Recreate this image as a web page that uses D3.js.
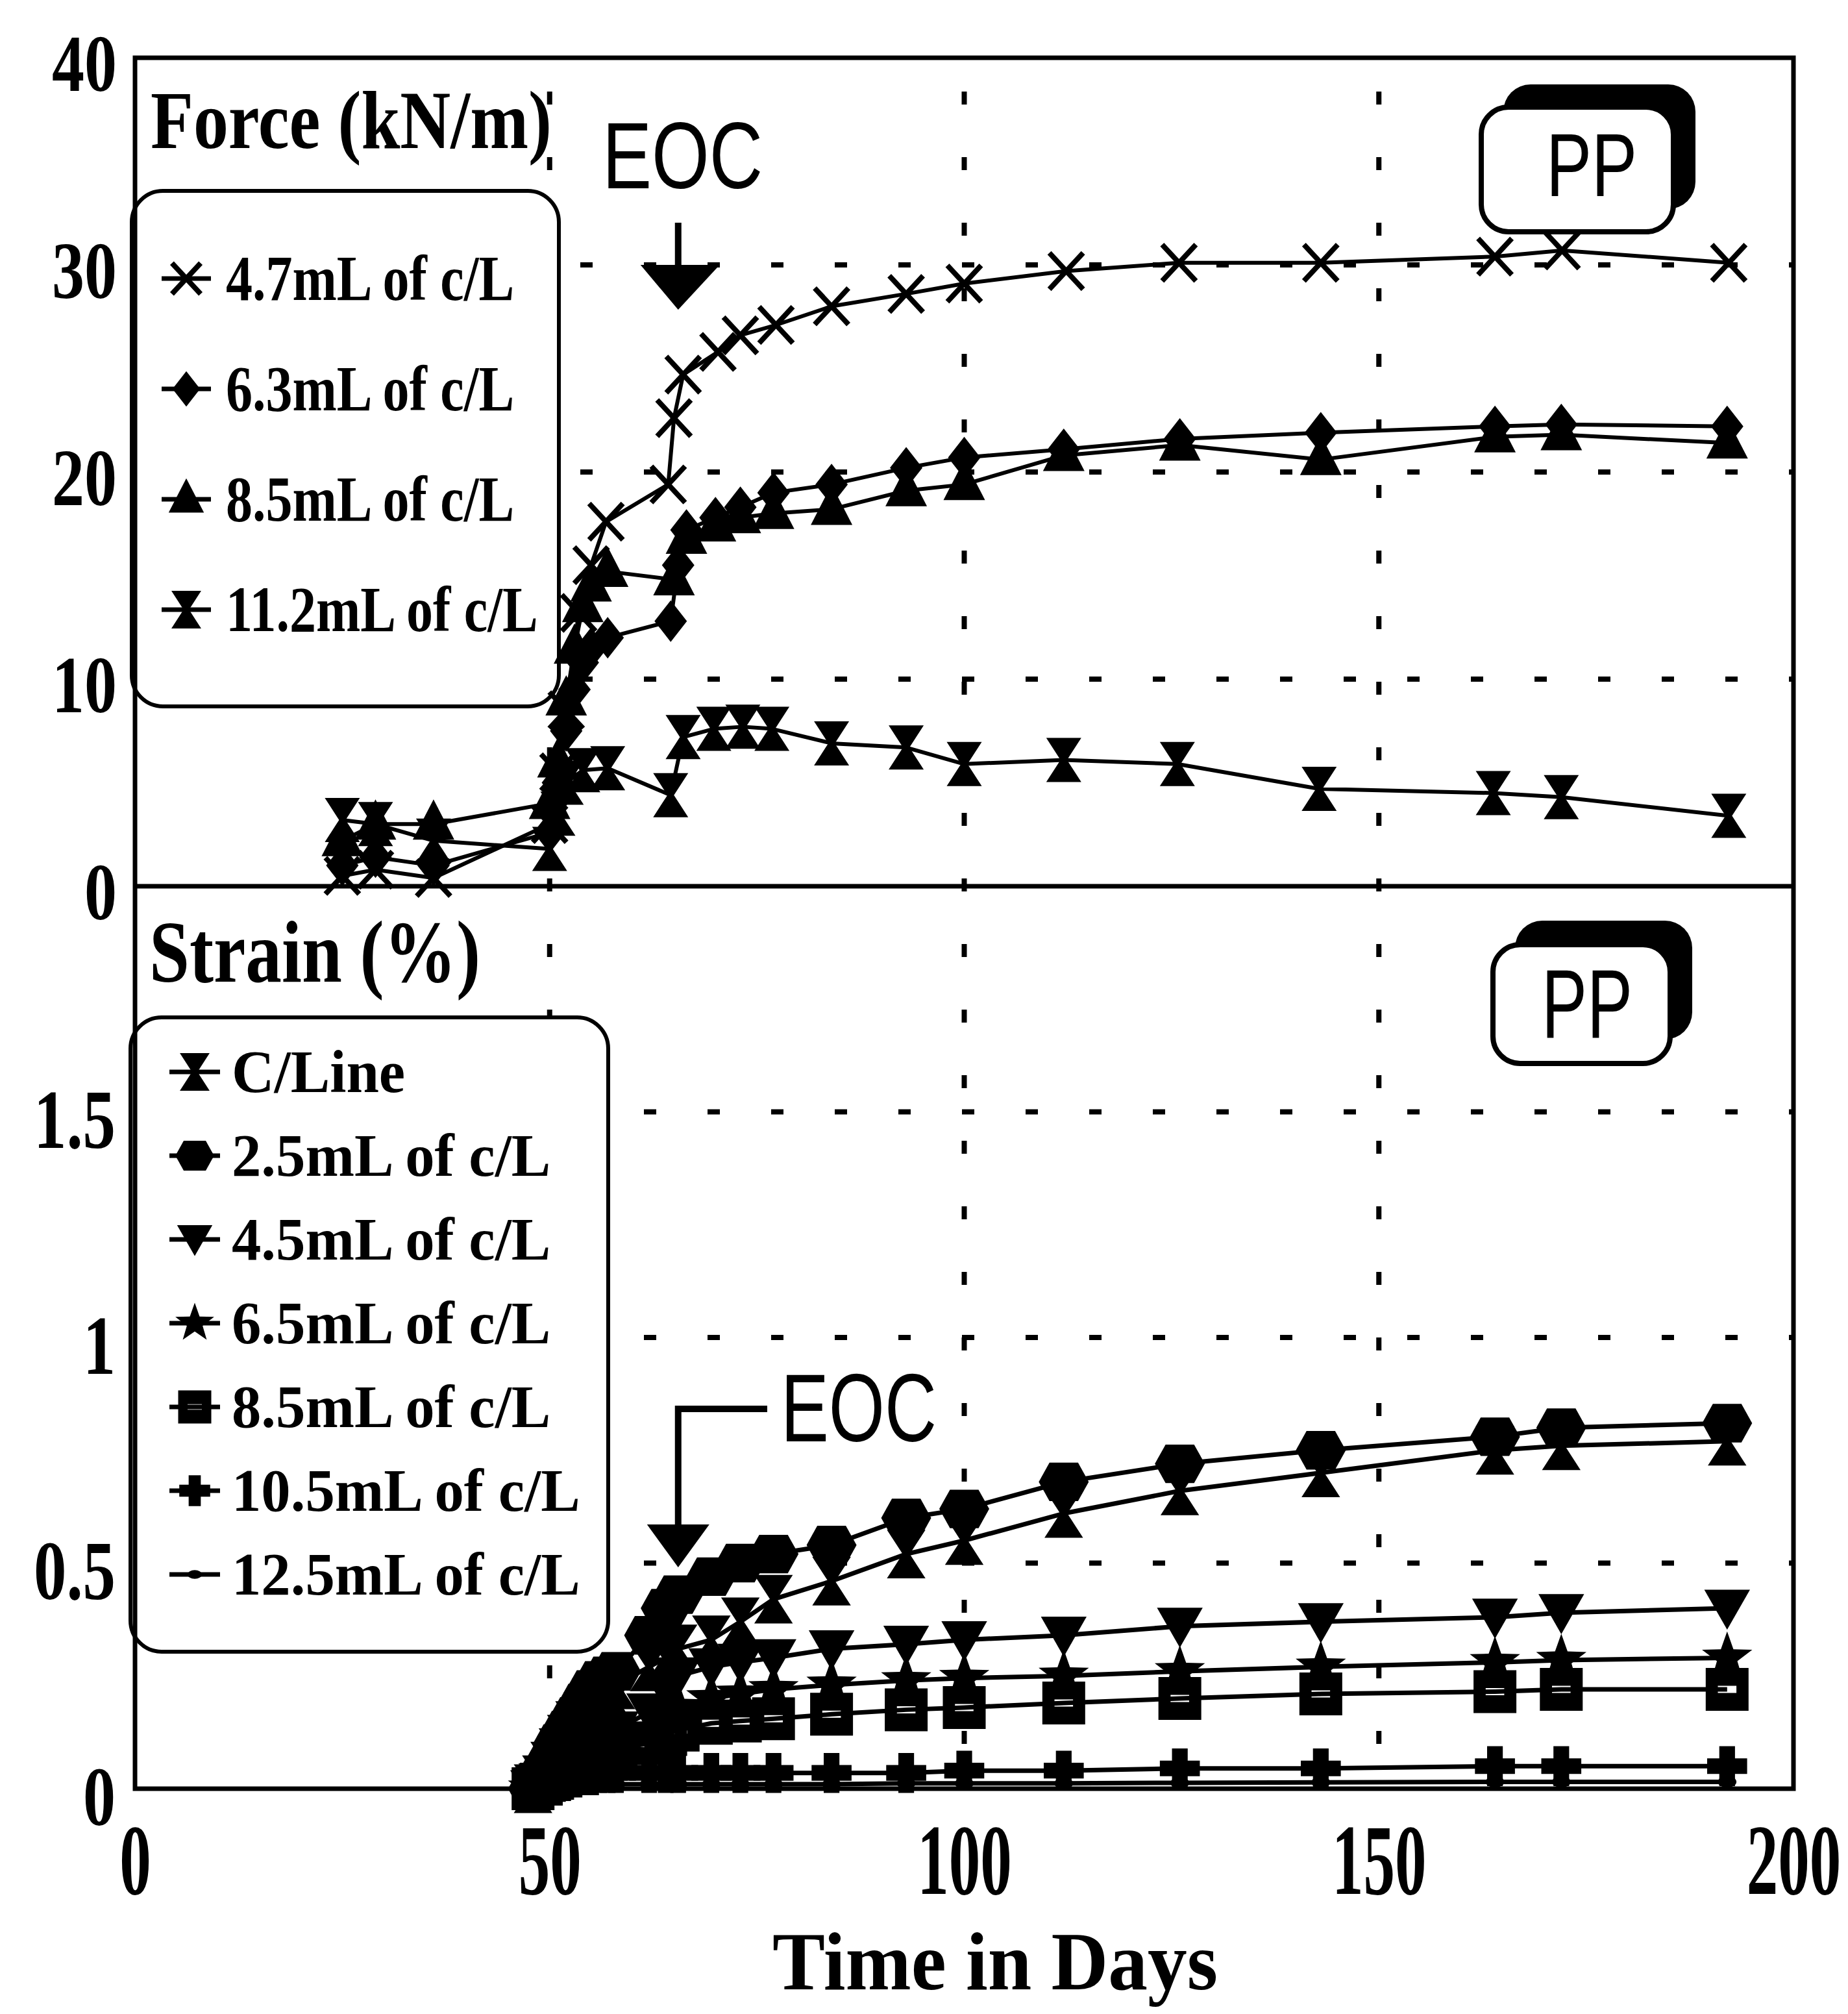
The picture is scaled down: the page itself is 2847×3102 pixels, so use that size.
<!DOCTYPE html>
<html lang="en">
<head>
    <meta charset="UTF-8">
    <title>PP - Force and Strain vs Time</title>
    <script src="https://d3js.org/d3.v7.min.js"></script>
    <style>
        body { margin: 0; background-color: white; }
        svg { display: block; }
    </style>
</head>
<body>
<script>
    // ---- values ----
    const dayTicks = [0, 50, 100, 150, 200];
    const forceTicks = [0, 10, 20, 30, 40];
    const strainTicks = [0, 0.5, 1, 1.5];
    const dayGrid = [50, 100, 150];
    const forceGrid = [10, 20, 30];
    const strainGrid = [0.5, 1, 1.5];
    const eocDay = 65.5;

    // top panel: force (kN/m)
    const forceNames = ["4.7mL of c/L", "6.3mL of c/L", "8.5mL of c/L", "11.2mL of c/L"];
    const f47Days = [25, 29, 36, 50, 51, 52, 53.5, 55, 56.8, 64.3, 65, 66.1, 70.3, 73, 77.3, 84, 93, 100, 112.3, 125.9, 143, 164, 172.1, 192.2];
    const f47 = [0.5, 0.8, 0.4, 3.0, 5.5, 8.5, 13.2, 15.5, 17.6, 19.4, 22.6, 24.7, 25.8, 26.6, 27.1, 28.0, 28.6, 29.1, 29.7, 30.1, 30.1, 30.4, 30.7, 30.1];
    const f63Days = [25, 29, 36, 50, 51, 52, 53, 54, 55, 57, 64.6, 65.5, 66.5, 70, 73, 77, 84, 93, 100, 112, 126, 143, 164, 172, 192];
    const f63 = [1.0, 1.4, 1.0, 2.6, 5.0, 7.5, 9.5, 10.8, 11.5, 12.0, 12.8, 15.5, 17.2, 17.8, 18.3, 19.0, 19.4, 20.2, 20.7, 21.1, 21.6, 21.9, 22.2, 22.3, 22.2];
    const f85Days = [25, 29, 36, 50, 51, 52, 53, 54, 55, 57, 65, 66.5, 70, 73, 77, 84, 93, 100, 112, 126, 143, 164, 172, 192];
    const f85 = [2.2, 3.0, 3.0, 4.0, 6.0, 9.0, 11.5, 13.5, 14.5, 15.2, 14.8, 16.8, 17.4, 17.8, 18.0, 18.2, 19.1, 19.4, 20.8, 21.3, 20.6, 21.7, 21.8, 21.4];
    const f112Days = [25, 29, 36, 50, 51, 52, 54, 57, 64.6, 66.1, 69.8, 73.3, 76.8, 84, 93, 100, 112, 125.7, 142.8, 163.8, 172, 192.2];
    const f112 = [3.2, 3.0, 2.2, 1.8, 3.5, 5.0, 5.6, 5.7, 4.4, 7.2, 7.6, 7.7, 7.6, 6.9, 6.7, 5.9, 6.1, 5.9, 4.7, 4.5, 4.3, 3.4];

    // bottom panel: strain (%)
    const strainNames = ["C/Line", "2.5mL of c/L", "4.5mL of c/L", "6.5mL of c/L", "8.5mL of c/L", "10.5mL of c/L", "12.5mL of c/L"];
    const strainDays = [48, 49, 50, 51, 52, 53, 54, 55, 56, 57, 58, 62, 64, 65.5, 69.5, 73, 77, 84, 93, 100, 112, 126, 143, 164, 172, 192];
    const sCLine = [0, 0.02, 0.05, 0.08, 0.11, 0.14, 0.16, 0.19, 0.21, 0.22, 0.23, 0.27, 0.29, 0.31, 0.33, 0.37, 0.42, 0.46, 0.52, 0.55, 0.61, 0.66, 0.70, 0.75, 0.76, 0.77];
    const s25 = [0, 0.03, 0.06, 0.10, 0.13, 0.16, 0.19, 0.22, 0.24, 0.25, 0.26, 0.34, 0.40, 0.43, 0.47, 0.50, 0.52, 0.54, 0.60, 0.62, 0.68, 0.72, 0.75, 0.78, 0.80, 0.81];
    const s45 = [0, 0.015, 0.03, 0.05, 0.07, 0.09, 0.10, 0.11, 0.12, 0.13, 0.13, 0.17, 0.22, 0.25, 0.27, 0.28, 0.29, 0.31, 0.32, 0.33, 0.34, 0.36, 0.37, 0.38, 0.39, 0.40];
    const s65 = [0, 0.01, 0.02, 0.04, 0.05, 0.07, 0.08, 0.09, 0.10, 0.10, 0.11, 0.13, 0.16, 0.18, 0.20, 0.21, 0.22, 0.23, 0.24, 0.245, 0.25, 0.26, 0.27, 0.28, 0.285, 0.29];
    const s85 = [0, 0.01, 0.02, 0.03, 0.04, 0.05, 0.06, 0.07, 0.08, 0.08, 0.09, 0.10, 0.12, 0.13, 0.145, 0.15, 0.155, 0.165, 0.175, 0.18, 0.19, 0.20, 0.21, 0.215, 0.22, 0.22];
    const s105 = [0, 0.005, 0.01, 0.015, 0.02, 0.025, 0.03, 0.03, 0.035, 0.035, 0.035, 0.035, 0.035, 0.035, 0.035, 0.035, 0.035, 0.035, 0.035, 0.04, 0.04, 0.045, 0.045, 0.05, 0.05, 0.05];
    const s125 = [0, 0.003, 0.005, 0.007, 0.008, 0.009, 0.01, 0.01, 0.01, 0.01, 0.01, 0.01, 0.01, 0.01, 0.01, 0.01, 0.01, 0.01, 0.012, 0.012, 0.012, 0.013, 0.014, 0.015, 0.015, 0.015];

    // ---- layout ----
    const width = 2847, height = 3102;
    const plot = {left: 208, right: 2763, top: 89, mid: 1365, bottom: 2755};
    const serif = '"Liberation Serif", "Times New Roman", serif';
    const sans = '"Liberation Sans", Arial, sans-serif';

    const svg = d3.select("body").append("svg")
        .attr("width", width)
        .attr("height", height);
    svg.append("rect").attr("width", width).attr("height", height).attr("fill", "white");

    const x = d3.scaleLinear().domain([0, 200]).range([plot.left, plot.right]);
    const yF = d3.scaleLinear().domain([0, 40]).range([plot.mid, plot.top]);
    const yS = d3.scaleLinear().domain([0, 2]).range([plot.bottom, plot.mid]);

    // marker shapes (centred on 0,0)
    function starPath(R, r) {
        const p = [];
        for (let i = 0; i < 10; i++) {
            const a = -Math.PI / 2 + i * Math.PI / 5;
            const rad = i % 2 ? r : R;
            p.push([(rad * Math.cos(a)).toFixed(1), (rad * Math.sin(a)).toFixed(1)]);
        }
        return "M" + p.map(q => q.join(",")).join("L") + "Z";
    }
    const marks = {
        x: {d: "M-26,-28L26,28M-26,28L26,-28", stroke: true},
        diamond: {d: "M0,-32L25,0L0,32L-25,0Z"},
        triUp: {d: "M0,-38L32,24L-32,24Z"},
        hourglass: {d: "M-27,-34H27L5,0L27,34H-27L-5,0Z"},
        hex: {d: "M-35,0L-20,-27H20L35,0L20,27H-20Z"},
        triDown: {d: "M-32,-26H32L0,30Z"},
        star: {d: starPath(37, 15)},
        box: {d: "M-30,-30H30V30H-30ZM-13,-5H13V5H-13Z"},
        plus: {d: "M-11,-28H11V-11H28V11H11V28H-11V11H-28V-11H-11Z"},
        dot: {d: "M-13,0A13,8 0 1,0 13,0A13,8 0 1,0 -13,0Z"}
    };

    function drawMark(g, shape, cx, cy, s) {
        const m = marks[shape];
        const p = g.append("path")
            .attr("d", m.d)
            .attr("transform", `translate(${cx},${cy}) scale(${s})`);
        if (m.stroke) {
            p.attr("fill", "none").attr("stroke", "black").attr("stroke-width", 8 / s);
        } else {
            p.attr("fill", "black").attr("fill-rule", "evenodd");
        }
        return p;
    }

    const forceSeries = [
        {days: f47Days, vals: f47, shape: "x"},
        {days: f63Days, vals: f63, shape: "diamond"},
        {days: f85Days, vals: f85, shape: "triUp"},
        {days: f112Days, vals: f112, shape: "hourglass"}
    ];
    const strainSeries = [
        {vals: s125, shape: "dot"},
        {vals: s105, shape: "plus"},
        {vals: s85, shape: "box"},
        {vals: s65, shape: "star"},
        {vals: s45, shape: "triDown"},
        {vals: sCLine, shape: "hourglass"},
        {vals: s25, shape: "hex"}
    ];

    // ---- grid ----
    const grid = svg.append("g").attr("stroke", "black").attr("stroke-width", 8);
    grid.selectAll(".gx").data(dayGrid).join("line")
        .attr("x1", d => x(d)).attr("x2", d => x(d))
        .attr("y1", plot.top).attr("y2", plot.bottom)
        .attr("stroke-dasharray", "20 81").attr("stroke-dashoffset", 49);
    grid.selectAll(".gf").data(forceGrid).join("line")
        .attr("x1", plot.left).attr("x2", plot.right)
        .attr("y1", d => yF(d)).attr("y2", d => yF(d))
        .attr("stroke-dasharray", "19 79");
    grid.selectAll(".gs").data(strainGrid).join("line")
        .attr("x1", plot.left).attr("x2", plot.right)
        .attr("y1", d => yS(d)).attr("y2", d => yS(d))
        .attr("stroke-dasharray", "19 79");

    // ---- legends ----
    function drawLegend(names, shapes, box, rowY0, rowStep, markX, markHalf, markScale, textX, fs, squeeze) {
        const g = svg.append("g");
        g.append("rect")
            .attr("x", box[0]).attr("y", box[1]).attr("width", box[2]).attr("height", box[3])
            .attr("rx", 48).attr("ry", 48)
            .attr("fill", "white").attr("stroke", "black").attr("stroke-width", 6);
        names.forEach((name, i) => {
            const base = rowY0 + i * rowStep;
            const cy = base - fs * 0.33;
            g.append("line")
                .attr("x1", markX - markHalf).attr("x2", markX + markHalf)
                .attr("y1", cy).attr("y2", cy)
                .attr("stroke", "black").attr("stroke-width", 7);
            drawMark(g, shapes[i], markX, cy, markScale);
            const t = g.append("text")
                .attr("x", textX).attr("y", base)
                .style("font-family", serif).style("font-weight", "bold")
                .style("font-size", fs + "px")
                .text(name);
            const w = t.node().getComputedTextLength();
            t.attr("textLength", w * squeeze).attr("lengthAdjust", "spacingAndGlyphs");
        });
    }
    drawLegend(forceNames, ["x", "diamond", "triUp", "hourglass"],
        [203, 294, 658, 794], 462, 170, 287, 38, 0.85, 348, 100, 0.82);
    drawLegend(strainNames, ["hourglass", "hex", "triDown", "star", "box", "plus", "dot"],
        [201, 1567, 736, 977], 1682, 129, 300, 39, 0.85, 357, 94, 0.965);

    // ---- data ----
    const gData = svg.append("g");
    forceSeries.forEach(s => {
        const pts = d3.zip(s.days, s.vals);
        gData.append("path").datum(pts)
            .attr("fill", "none").attr("stroke", "black").attr("stroke-width", 6)
            .attr("stroke-linejoin", "round")
            .attr("d", d3.line().x(d => x(d[0])).y(d => yF(d[1])));
        pts.forEach(d => drawMark(gData, s.shape, x(d[0]), yF(d[1]), 1));
    });
    strainSeries.forEach(s => {
        const pts = d3.zip(strainDays, s.vals);
        gData.append("path").datum(pts)
            .attr("fill", "none").attr("stroke", "black").attr("stroke-width", 7)
            .attr("stroke-linejoin", "round")
            .attr("d", d3.line().x(d => x(d[0])).y(d => yS(d[1])));
        pts.forEach(d => drawMark(gData, s.shape, x(d[0]), yS(d[1]), 1.1));
    });

    // ---- frame ----
    svg.append("rect")
        .attr("x", plot.left).attr("y", plot.top)
        .attr("width", plot.right - plot.left).attr("height", plot.bottom - plot.top)
        .attr("fill", "none").attr("stroke", "black").attr("stroke-width", 7);
    svg.append("line")
        .attr("x1", plot.left).attr("x2", plot.right)
        .attr("y1", plot.mid).attr("y2", plot.mid)
        .attr("stroke", "black").attr("stroke-width", 7);

    // ---- axes (labels only, frame drawn above) ----
    function labelWidth(str, digit) {
        let w = 0;
        for (const c of str) w += c === "." ? 26 : digit;
        return w;
    }
    function styleAxis(g, fs) {
        g.select(".domain").remove();
        g.attr("font-family", null).attr("font-size", null);
        g.selectAll("text")
            .attr("fill", "black")
            .style("font-family", serif).style("font-weight", "bold")
            .style("font-size", fs + "px");
    }
    const axF = svg.append("g").attr("transform", "translate(180,0)")
        .call(d3.axisLeft(yF).tickValues(forceTicks).tickSize(0).tickPadding(0).tickFormat(d => String(d)));
    styleAxis(axF, 125);
    axF.selectAll("text").attr("dy", 50)
        .attr("textLength", function () { return labelWidth(this.textContent, 50); })
        .attr("lengthAdjust", "spacingAndGlyphs");

    const axS = svg.append("g").attr("transform", "translate(178,0)")
        .call(d3.axisLeft(yS).tickValues(strainTicks).tickSize(0).tickPadding(0).tickFormat(d => String(d)));
    styleAxis(axS, 130);
    axS.selectAll("text").attr("dy", 55)
        .attr("textLength", function () { return labelWidth(this.textContent, 50); })
        .attr("lengthAdjust", "spacingAndGlyphs");

    // day labels: normal width, stretched vertically like the reference
    const stretch = 1.6;
    const axX = svg.append("g").attr("transform", `translate(0,${plot.bottom})`)
        .call(d3.axisBottom(x).tickValues(dayTicks).tickSize(0).tickPadding(0).tickFormat(d => String(d)));
    styleAxis(axX, 97);
    axX.selectAll("text")
        .attr("transform", `scale(1,${stretch})`)
        .attr("y", 162 / stretch).attr("dy", 0);

    svg.append("text")
        .attr("x", 1533).attr("y", 3064)
        .attr("text-anchor", "middle")
        .style("font-family", serif).style("font-weight", "bold").style("font-size", "126px")
        .attr("textLength", 686).attr("lengthAdjust", "spacingAndGlyphs")
        .text("Time in Days");

    // ---- panel titles ----
    svg.append("text")
        .attr("x", 232).attr("y", 228)
        .style("font-family", serif).style("font-weight", "bold").style("font-size", "128px")
        .attr("textLength", 618).attr("lengthAdjust", "spacingAndGlyphs")
        .text("Force (kN/m)");
    svg.append("text")
        .attr("x", 230).attr("y", 1512)
        .style("font-family", serif).style("font-weight", "bold").style("font-size", "135px")
        .attr("textLength", 510).attr("lengthAdjust", "spacingAndGlyphs")
        .text("Strain (%)");

    // ---- PP tags ----
    function ppTag(bx, by, bw, bh, sdx, sdy, tx, ty, fs) {
        const g = svg.append("g");
        g.append("rect")
            .attr("x", bx + sdx).attr("y", by + sdy).attr("width", bw).attr("height", bh)
            .attr("rx", 42).attr("fill", "black");
        g.append("rect")
            .attr("x", bx).attr("y", by).attr("width", bw).attr("height", bh)
            .attr("rx", 42).attr("fill", "white").attr("stroke", "black").attr("stroke-width", 8);
        g.append("text")
            .attr("x", tx).attr("y", ty).attr("text-anchor", "middle")
            .style("font-family", sans).style("font-size", fs + "px")
            .attr("textLength", 140).attr("lengthAdjust", "spacingAndGlyphs")
            .text("PP");
    }
    ppTag(2282, 165, 296, 192, 34, -35, 2452, 302, 138);
    ppTag(2300, 1455, 273, 183, 34, -37, 2445, 1598, 150);

    // ---- EOC annotations ----
    const ex = x(eocDay);
    svg.append("text")
        .attr("x", 928).attr("y", 290)
        .style("font-family", sans).style("font-size", "144px")
        .attr("textLength", 247).attr("lengthAdjust", "spacingAndGlyphs")
        .text("EOC");
    svg.append("line")
        .attr("x1", ex).attr("x2", ex).attr("y1", 343).attr("y2", 412)
        .attr("stroke", "black").attr("stroke-width", 10);
    svg.append("path")
        .attr("d", `M${ex - 58},408L${ex + 64},408L${ex},477Z`)
        .attr("fill", "black");

    svg.append("text")
        .attr("x", 1203).attr("y", 2220)
        .style("font-family", sans).style("font-size", "148px")
        .attr("textLength", 240).attr("lengthAdjust", "spacingAndGlyphs")
        .text("EOC");
    svg.append("path")
        .attr("d", `M1182,2170H${ex}V2352`)
        .attr("fill", "none").attr("stroke", "black").attr("stroke-width", 10);
    svg.append("path")
        .attr("d", `M${ex - 48},2348L${ex + 48},2348L${ex},2414Z`)
        .attr("fill", "black");
</script>
</body>
</html>
